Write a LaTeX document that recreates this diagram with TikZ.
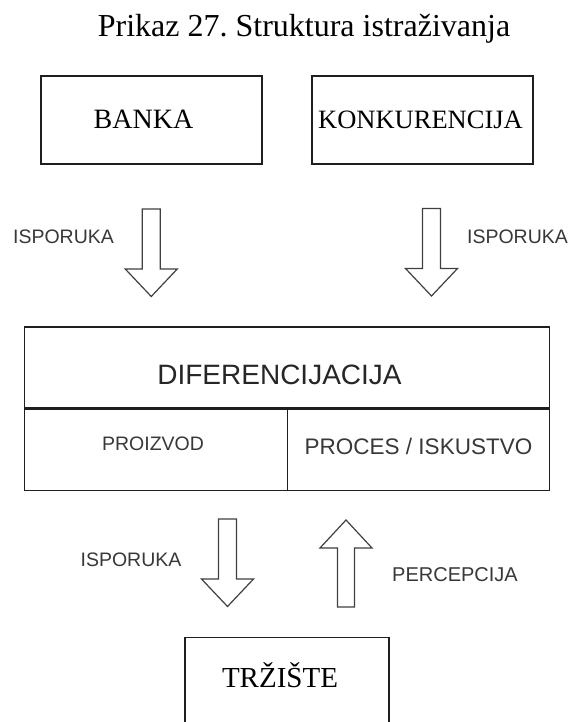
\documentclass[tikz,border=0pt]{standalone}
\usepackage{fontspec}
\setmainfont{Liberation Serif}
\setsansfont{Liberation Sans}
\frenchspacing
\tikzset{
  box/.style={draw=black!88, line width=1.3pt, rectangle, inner sep=0pt},
  serlab/.style={anchor=base, inner sep=0pt, text=black},
  sanlab/.style={anchor=base, inner sep=0pt, text=black!78, font=\sffamily},
  arrline/.style={draw=black!75, line width=1.2pt, fill=white, line join=miter},
  blockdown/.pic={\path[arrline] (-9,0) -- (-9,-60) -- (-26,-60) -- (0,-87.5) -- (26,-60) -- (9,-60) -- (9,0) -- cycle;},
  blockup/.pic={\path[arrline] (-8.5,0) -- (-8.5,59) -- (-26,59) -- (0,87) -- (26,59) -- (8.5,59) -- (8.5,0) -- cycle;}
}
\newcommand{\fsz}[1]{\fontsize{#1}{#1}\selectfont}
\begin{document}
\begin{tikzpicture}[x=1pt,y=1pt]
\useasboundingbox (0,0) rectangle (574,-722);
\clip (0,0) rectangle (574,-722);
\fill[white] (0,0) rectangle (574,-722);
% title
\node[serlab, font=\fsz{32}] (title) at (304,-36.7) {Prikaz 27. Struktura istraživanja};
% top boxes
\node[box, minimum width=221pt, minimum height=88pt] (banka) at (151.5,-120) {};
\node[serlab, font=\fsz{28}] (bankat) at (143.5,-129) {BANKA};
\node[box, minimum width=221pt, minimum height=88pt] (konk) at (422.5,-120) {};
\node[serlab, font=\fsz{26.5}] (konkt) at (420.5,-129) {KONKURENCIJA};
% top arrows
\pic (a1) at (151.25,-209) {blockdown};
\pic (a2) at (431.5,-208.5) {blockdown};
\node[sanlab, font=\sffamily\fsz{19.5}] (is1) at (63.5,-243.5) {ISPORUKA};
\node[sanlab, font=\sffamily\fsz{19.5}] (is2) at (517.5,-243.5) {ISPORUKA};
% differentiation box
\node[box, minimum width=525pt, minimum height=81pt] (dif) at (286.75,-367.5) {};
\node[box, minimum width=263pt, minimum height=81pt, anchor=north west] (proiz) at (dif.south west) {};
\node[box, minimum width=262pt, minimum height=81pt, anchor=north east] (proc) at (dif.south east) {};
\node[sanlab, font=\sffamily\fsz{28}, text=black!85] (dift) at (279.5,-384) {DIFERENCIJACIJA};
\node[sanlab, font=\sffamily\fsz{19.5}] (proizt) at (153,-450.5) {PROIZVOD};
\node[sanlab, font=\sffamily\fsz{22.5}] (proct) at (418.5,-454) {PROCES / ISKUSTVO};
% lower arrows
\pic (a3) at (227.5,-519) {blockdown};
\pic (a4) at (346,-607) {blockup};
\node[sanlab, font=\sffamily\fsz{19.5}] (is3) at (131,-566) {ISPORUKA};
\node[sanlab, font=\sffamily\fsz{20}] (perc) at (455,-581) {PERCEPCIJA};
% market box
\node[box, minimum width=204pt, minimum height=100pt, anchor=north] (trz) at (287,-637) {};
\node[serlab, font=\fsz{29}] (trzt) at (280,-687) {TRŽIŠTE};
\end{tikzpicture}
\end{document}
